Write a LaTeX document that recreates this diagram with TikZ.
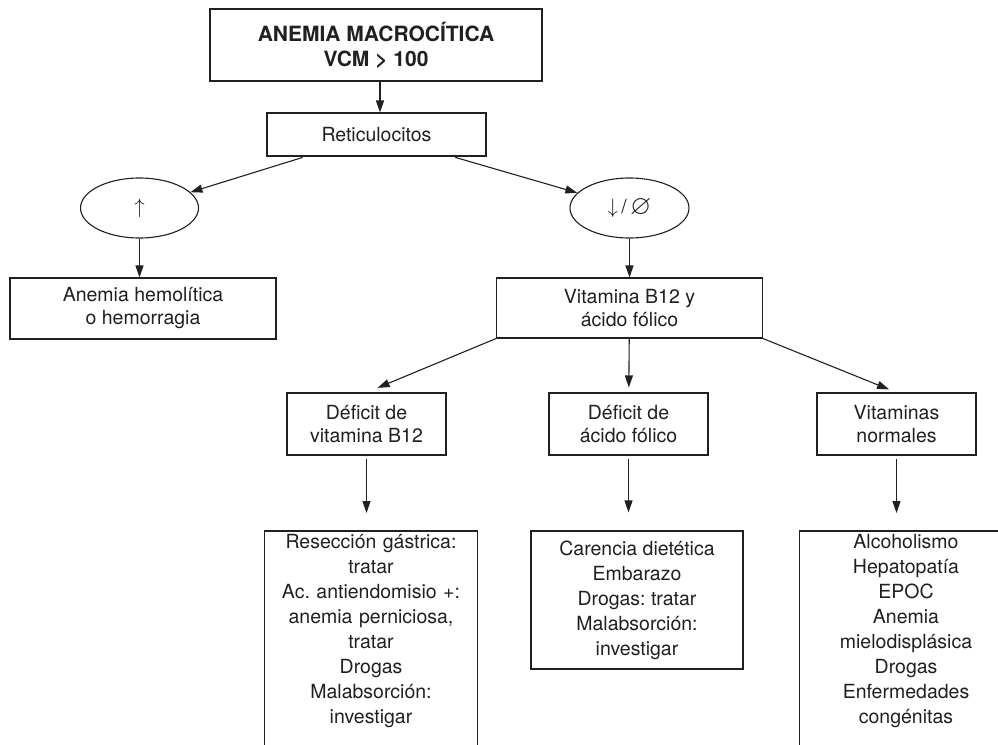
\documentclass[tikz,border=0pt]{standalone}
\usepackage{amssymb}
\usepackage{fontspec}
\setmainfont{TeX Gyre Heros}
\usetikzlibrary{shapes.geometric,arrows.meta}
\definecolor{ink}{RGB}{35,31,32}
\frenchspacing

\begin{document}
\begin{tikzpicture}[x=1pt,y=-1pt,
    every node/.style={text=ink},
    box/.style={draw=ink,line width=1.1pt,inner sep=0pt,align=center,
      font=\fontsize{19.5}{23}\selectfont},
    ovl/.style={draw=ink,ellipse,line width=1.1pt,inner sep=0pt,
      minimum width=118pt,minimum height=60pt,font=\fontsize{19.5}{23}\selectfont},
    lista/.style={inner xsep=0pt,inner ysep=3pt,text width=212pt,align=center,
      anchor=north,font=\fontsize{19.5}{25}\selectfont},
    conn/.style={draw=ink,line width=1.1pt,-{Triangle[length=12pt,width=8pt]}}]
    \useasboundingbox (0,0) rectangle (998,744);
    \clip (0,0) rectangle (998,744);
    \fill[white] (0,0) rectangle (998,744);

    % top of the tree
    \node[box,minimum width=332pt,minimum height=72pt,
      font=\fontsize{21}{25}\selectfont\bfseries] (top) at (376,45)
      {ANEMIA MACROCÍTICA\\VCM > 100};
    \node[box,minimum width=219pt,minimum height=43pt] (reti) at (376.5,134.5) {Reticulocitos};
    \node[ovl] (lell) at (139.5,208) {$\uparrow$};
    \node[ovl,minimum width=119pt] (rell) at (629.5,208)
      {$\downarrow$\,/\,\raisebox{-1pt}{\scalebox{1.4}{$\varnothing$}}};
    \node[box,minimum width=266pt,minimum height=61pt] (hem) at (143,308.5)
      {Anemia hemolítica\\o hemorragia};
    \node[box,minimum width=266pt,minimum height=60pt] (vit) at (629.5,308)
      {Vitamina B12 y\\ácido fólico};

    % middle row
    \node[box,minimum width=159pt,minimum height=62pt] (defb) at (366.5,424) {Déficit de\\vitamina B12};
    \node[box,minimum width=159pt,minimum height=62pt] (defa) at (628.5,424) {Déficit de\\ácido fólico};
    \node[box,minimum width=159pt,minimum height=62pt] (vitn) at (896.5,424) {Vitaminas\\normales};

    % bottom row
    \node[lista] (lb) at (371,531) {Resección gástrica:\\tratar\\Ac. antiendomisio +:\\anemia perniciosa,\\tratar\\Drogas\\Malabsorción:\\investigar};
    \node[box,minimum width=212pt,minimum height=138pt,
      font=\fontsize{19.5}{25}\selectfont] (mb) at (637,600)
      {Carencia dietética\\Embarazo\\Drogas: tratar\\Malabsorción:\\investigar};
    \node[lista] (rb) at (906,531) {Alcoholismo\\Hepatopatía\\EPOC\\Anemia\\mielodisplásica\\Drogas\\Enfermedades\\congénitas};
    \draw[draw=ink,line width=1.1pt] (lb.north west) rectangle ([yshift=-40pt]lb.south east);
    \draw[draw=ink,line width=1.1pt] (rb.north west) rectangle ([yshift=-40pt]rb.south east);

    % connectors
    \draw[conn] ([xshift=4pt]top.south) -- ([xshift=4pt]top.south |- reti.north);
    \draw[conn,shorten <=3pt] (reti) -- (lell);
    \draw[conn,shorten <=3pt] (reti) -- (rell);
    \draw[conn] (lell.south) -- (lell.south |- hem.north);
    \draw[conn] (rell) -- (vit);
    \draw[conn,shorten >=12pt] (vit.south west) -- (defb.north);
    \draw[conn,shorten >=5pt] (vit) -- (defa);
    \draw[conn,shorten >=8pt] (vit.south east) -- (vitn.north);
    \foreach \a/\b in {defb/lb,defa/mb,vitn/rb}{
      \draw[conn,shorten <=3pt,shorten >=18pt] (\a.south) -- (\a.south |- \b.north);
    }
\end{tikzpicture}
\end{document}
